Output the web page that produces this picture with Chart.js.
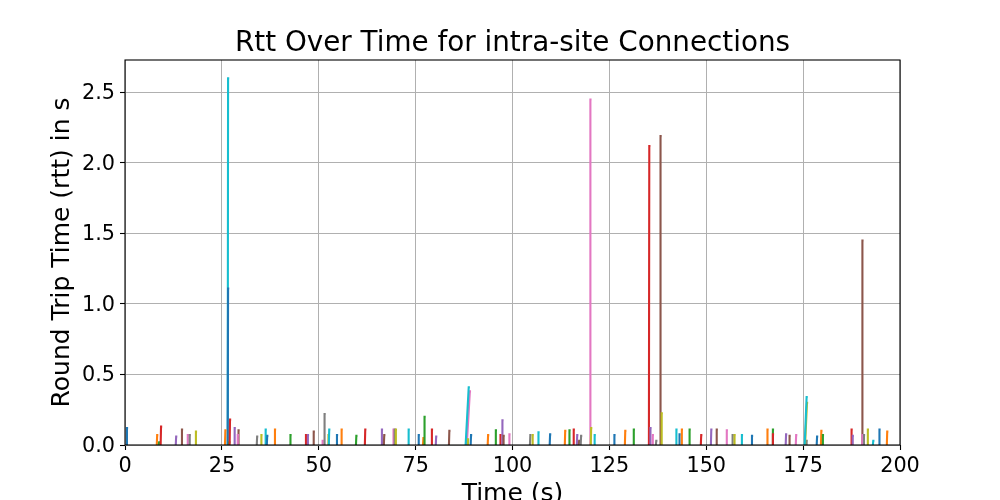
<!DOCTYPE html>
<html>
<head>
<meta charset="utf-8">
<script src="https://cdn.jsdelivr.net/npm/chart.js@4"></script>
<style>
  html, body { margin: 0; padding: 0; background: #fff; }
  #wrap { width: 1000px; height: 500px; }
</style>
</head>
<body>
<div id="wrap"><canvas id="c" width="1000" height="500"></canvas></div>
<script>
// ---- data (one entry per connection, in plotting order) ----
const startTimes = [
  0.4, 8.2, 8.7, 9.2, 13.1, 14.6, 16.1, 16.6, 18.2, 26.5,
  26.5, 25.8, 26.8, 27.0, 28.2, 29.2, 29.0, 34.0, 35.1, 36.2,
  36.6, 38.6, 42.6, 46.6, 47.1, 48.6, 50.9, 51.4, 52.4, 52.6,
  54.6, 55.8, 59.6, 61.9, 66.2, 66.8, 69.2, 69.5, 69.8, 73.1,
  75.7, 76.9, 77.2, 79.1, 80.2, 83.6, 88.2, 88.3, 88.4, 87.9,
  89.2, 93.6, 95.6, 96.8, 97.3, 97.6, 99.1, 104.5, 105.1, 106.6,
  109.6, 113.5, 114.6, 115.7, 116.6, 117.1, 120.0, 117.6, 120.2, 121.1,
  126.2, 129.0, 131.2, 135.2, 135.5, 138.1, 136.1, 137.0, 138.4, 142.2,
  143.0, 143.6, 145.6, 148.6, 151.2, 152.6, 155.2, 156.7, 157.2, 159.1,
  161.7, 165.7, 167.1, 167.1, 170.5, 171.4, 173.1, 175.8, 175.5, 175.4,
  178.5, 179.6, 180.0, 187.4, 187.7, 190.2, 190.2, 190.6, 191.6, 193.0,
  194.6, 196.6
];
const peakRtts = [
  0.12, 0.07, 0.02, 0.13, 0.06, 0.11, 0.07, 0.07, 0.095, 2.6,
  1.11, 0.105, 0.02, 0.18, 0.12, 0.105, 0.07, 0.06, 0.07, 0.11,
  0.065, 0.11, 0.07, 0.07, 0.07, 0.095, 0.03, 0.22, 0.07, 0.11,
  0.07, 0.11, 0.065, 0.11, 0.11, 0.07, 0.11, 0.11, 0.11, 0.11,
  0.07, 0.05, 0.20, 0.11, 0.06, 0.10, 0.38, 0.03, 0.04, 0.41,
  0.07, 0.07, 0.105, 0.07, 0.175, 0.065, 0.075, 0.07, 0.07, 0.09,
  0.075, 0.10, 0.105, 0.11, 0.07, 0.03, 2.45, 0.065, 0.12, 0.07,
  0.07, 0.10, 0.11, 2.12, 0.12, 2.19, 0.07, 0.03, 0.225, 0.11,
  0.075, 0.11, 0.11, 0.07, 0.11, 0.11, 0.105, 0.07, 0.07, 0.07,
  0.065, 0.11, 0.11, 0.075, 0.075, 0.065, 0.07, 0.03, 0.30, 0.34,
  0.06, 0.10, 0.07, 0.11, 0.065, 1.45, 0.07, 0.07, 0.11, 0.03,
  0.11, 0.095
];
// connections whose rtt ramps up more slowly (seconds to reach peak)
const slowRises = { 46: 0.8, 49: 0.8, 98: 0.5, 99: 0.5 };
const xTicks = [0, 25, 50, 75, 100, 125, 150, 175, 200];
const yTicks = [0.0, 0.5, 1.0, 1.5, 2.0, 2.5];

// ---- styles ----
const palette = ['#1f77b4', '#ff7f0e', '#2ca02c', '#d62728', '#9467bd',
                 '#8c564b', '#e377c2', '#7f7f7f', '#bcbd22', '#17becf'];
const FONT = 'DejaVu Sans';

const datasets = startTimes.map((t, i) => {
  const rise = slowRises[i] !== undefined ? slowRises[i] : 0.1;
  const v = peakRtts[i];
  return {
    data: [{x: t, y: 0}, {x: t + rise, y: v}, {x: t + rise + 0.3, y: v}],
    borderColor: palette[i % 10],
    backgroundColor: palette[i % 10],
    borderWidth: 2.1,
    pointRadius: 0,
    showLine: true,
    tension: 0,
    order: -i
  };
});

const frame = {
  id: 'frame',
  afterDatasetsDraw(chart) {
    const {ctx, chartArea: a} = chart;
    ctx.save();
    ctx.strokeStyle = '#000';
    ctx.lineWidth = 1.1;
    ctx.strokeRect(a.left, a.top, a.right - a.left, a.bottom - a.top);
    ctx.restore();
  }
};

new Chart(document.getElementById('c'), {
  type: 'scatter',
  data: { datasets },
  plugins: [frame],
  options: {
    responsive: false,
    animation: false,
    devicePixelRatio: 1,
    layout: { padding: { left: 0, right: 100, top: 0, bottom: 0 } },
    plugins: {
      legend: { display: false },
      tooltip: { enabled: false },
      title: {
        display: true,
        text: 'Rtt Over Time for intra-site Connections',
        color: '#000',
        fullSize: false,
        font: { family: FONT, size: 27.8, weight: 'normal', lineHeight: 1.0 },
        padding: { top: 30.3, bottom: 1.9 }
      }
    },
    scales: {
      x: {
        type: 'linear',
        min: 0, max: 200,
        afterFit(s) { s.height = 55; },
        afterBuildTicks(s) { s.ticks = xTicks.map(v => ({value: v})); },
        ticks: {
          color: '#000',
          font: { family: FONT, size: 20.8 },
          padding: 4,
          maxRotation: 0,
          autoSkip: false,
          callback: v => String(v)
        },
        grid: { color: '#b0b0b0', lineWidth: 1, tickColor: '#000', tickLength: 5, tickWidth: 1.1 },
        border: { display: false },
        title: {
          display: true, text: 'Time (s)', color: '#000',
          font: { family: FONT, size: 25, lineHeight: 0.45 },
          padding: { top: 0, bottom: 0 }
        }
      },
      y: {
        type: 'linear',
        min: 0, max: 2.73,
        afterFit(s) { s.width = 125; },
        afterBuildTicks(s) { s.ticks = yTicks.map(v => ({value: v})); },
        ticks: {
          color: '#000',
          font: { family: FONT, size: 20.8 },
          padding: 5,
          labelOffset: 1.5,
          autoSkip: false,
          callback: v => Number(v).toFixed(1)
        },
        grid: { color: '#b0b0b0', lineWidth: 1, tickColor: '#000', tickLength: 5, tickWidth: 1.1 },
        border: { display: false },
        title: {
          display: true, text: 'Round Trip Time (rtt) in s', color: '#000',
          font: { family: FONT, size: 25, lineHeight: 1.2 },
          padding: { top: 47, bottom: 0 }
        }
      }
    }
  }
});
</script>
</body>
</html>
